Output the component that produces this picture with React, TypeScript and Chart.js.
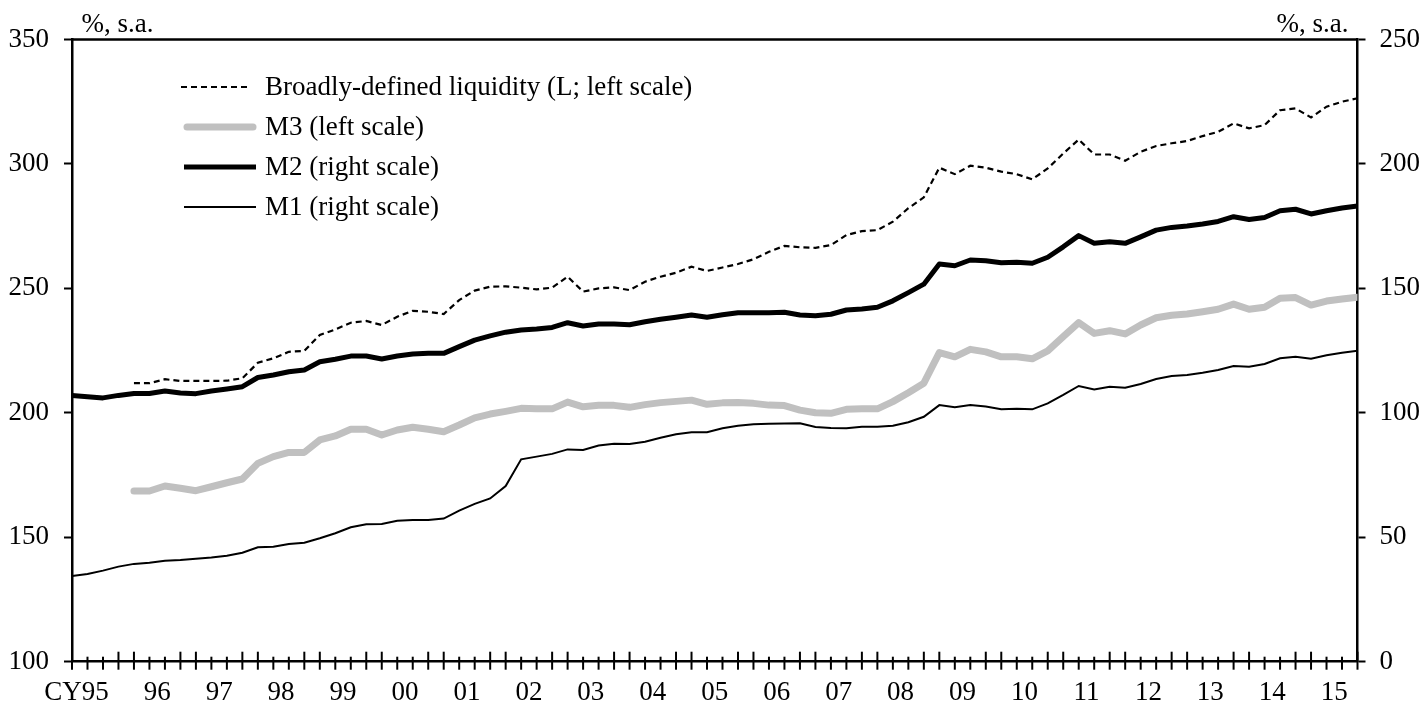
import React, { useEffect, useRef } from 'react';
import { Chart, registerables } from 'chart.js';

Chart.register(...registerables);

const FONT = "'Liberation Serif', 'Times New Roman', Times, serif";
const FS = 27;

// Years covered (quarterly data, 1995Q1 - 2015Q4)
const years = ['1995','1996','1997','1998','1999','2000','2001','2002','2003','2004','2005','2006','2007','2008','2009','2010','2011','2012','2013','2014','2015'];
const yearLabels = ['CY95','96','97','98','99','00','01','02','03','04','05','06','07','08','09','10','11','12','13','14','15'];
const quarters: string[] = years.flatMap((y) => [y + 'Q1', y + 'Q2', y + 'Q3', y + 'Q4']);

// Broadly-defined liquidity (L), left scale
const seriesL: (number | null)[] = [
  null, null, null, null,
  211.9, 211.9, 213.5, 212.8, 212.8, 212.8, 212.9, 213.9,
  220.1, 221.9, 224.5, 224.9, 231.3, 233.5, 236.2, 236.9,
  235.3, 238.6, 241.0, 240.6, 239.7, 245.3, 249.1, 250.7,
  250.8, 250.3, 249.6, 250.3, 254.7, 248.7, 250.0, 250.4,
  249.3, 252.7, 254.7, 256.3, 258.7, 257.0, 258.4, 259.8,
  261.7, 264.7, 267.1, 266.5, 266.3, 267.4, 271.4, 273.0,
  273.4, 276.8, 282.2, 286.6, 298.5, 295.9, 299.3, 298.5,
  296.9, 295.9, 293.8, 298.2, 304.2, 309.8, 303.8, 303.8,
  301.3, 304.9, 307.2, 308.3, 309.2, 311.2, 312.9, 316.3,
  314.3, 315.6, 321.6, 322.3, 318.7, 323.0, 325.0, 326.4,
];

// M3, left scale
const seriesM3: (number | null)[] = [
  null, null, null, null,
  168.6, 168.6, 170.6, 169.7, 168.7, 170.3, 171.9, 173.4,
  179.7, 182.4, 184.1, 184.1, 189.1, 190.7, 193.4, 193.4,
  191.1, 193.1, 194.2, 193.4, 192.4, 195.1, 198.0, 199.5,
  200.6, 201.8, 201.6, 201.6, 204.3, 202.4, 203.0, 203.0,
  202.2, 203.3, 204.1, 204.6, 205.1, 203.4, 204.0, 204.1,
  203.8, 203.1, 202.9, 201.1, 200.0, 199.8, 201.4, 201.6,
  201.6, 204.5, 208.1, 211.9, 224.2, 222.5, 225.5, 224.5,
  222.5, 222.5, 221.7, 224.9, 230.6, 236.2, 231.9, 233.0,
  231.7, 235.3, 238.2, 239.2, 239.7, 240.6, 241.6, 243.7,
  241.6, 242.4, 246.0, 246.3, 243.3, 244.9, 245.7, 246.4,
];

// M2, right scale
const seriesM2: number[] = [
  107.0, 106.5, 106.0, 107.0, 107.8, 107.8, 108.8, 108.0,
  107.7, 108.8, 109.6, 110.5, 114.2, 115.2, 116.5, 117.2,
  120.5, 121.5, 122.8, 122.8, 121.6, 122.8, 123.6, 123.9,
  123.9, 126.6, 129.2, 130.9, 132.4, 133.3, 133.7, 134.3,
  136.2, 134.9, 135.7, 135.7, 135.4, 136.6, 137.6, 138.4,
  139.3, 138.4, 139.4, 140.2, 140.2, 140.2, 140.4, 139.3,
  139.0, 139.6, 141.3, 141.7, 142.4, 145.0, 148.3, 151.7,
  159.8, 159.1, 161.4, 161.1, 160.3, 160.5, 160.1, 162.5,
  166.7, 171.2, 168.1, 168.7, 168.1, 170.7, 173.4, 174.5,
  175.1, 175.9, 176.9, 178.8, 177.7, 178.5, 181.2, 181.8,
  179.9, 181.2, 182.3, 183.1,
];

// M1, right scale
const seriesM1: number[] = [
  34.4, 35.2, 36.6, 38.2, 39.3, 39.8, 40.6, 40.9,
  41.4, 41.9, 42.6, 43.8, 46.0, 46.2, 47.3, 47.8,
  49.6, 51.6, 54.0, 55.2, 55.3, 56.6, 56.9, 56.9,
  57.5, 60.7, 63.4, 65.6, 70.6, 81.3, 82.4, 83.5,
  85.3, 85.1, 86.9, 87.6, 87.5, 88.4, 90.0, 91.4,
  92.2, 92.2, 93.8, 94.8, 95.4, 95.6, 95.7, 95.8,
  94.3, 93.9, 93.8, 94.4, 94.4, 94.8, 96.2, 98.4,
  103.1, 102.2, 103.1, 102.5, 101.4, 101.6, 101.4, 103.8,
  107.2, 110.8, 109.4, 110.5, 110.1, 111.6, 113.6, 114.8,
  115.2, 116.1, 117.2, 118.8, 118.5, 119.6, 121.9, 122.5,
  121.7, 123.1, 124.1, 124.9,
];

const legendItems = [
  { label: 'Broadly-defined liquidity (L; left scale)', color: '#000000', width: 2.2, dash: [6, 4] },
  { label: 'M3 (left scale)', color: '#c0c0c0', width: 7, dash: [] as number[] },
  { label: 'M2 (right scale)', color: '#000000', width: 5, dash: [] as number[] },
  { label: 'M1 (right scale)', color: '#000000', width: 2, dash: [] as number[] },
];

const unitLabel = '%, s.a.';

const toPoints = (arr: (number | null)[]) => arr.map((v, i) => ({ x: i, y: v }));

const W = 1423;
const H = 705;
const AREA = { left: 72, right: 1357.5, top: 39.5, bottom: 661.7 };

const decorPlugin = {
  id: 'decor',
  afterDraw(chart: any) {
    const { ctx, chartArea: a, scales } = chart;
    const xs = scales.x;
    ctx.save();
    // top frame line
    ctx.strokeStyle = '#000';
    ctx.lineWidth = 2.5;
    ctx.beginPath();
    ctx.moveTo(a.left, a.top);
    ctx.lineTo(a.right, a.top);
    ctx.stroke();

    // quarterly tick marks
    ctx.lineWidth = 2;
    quarters.forEach((_, k) => {
      const px = xs.getPixelForValue(k);
      const tall = k > 0 && (k % 4 === 0 || k % 4 === 3);
      ctx.beginPath();
      ctx.moveTo(px, a.bottom - (tall ? 10 : 5));
      ctx.lineTo(px, a.bottom + 8);
      ctx.stroke();
    });

    // year labels
    ctx.fillStyle = '#000';
    ctx.font = `${FS}px ${FONT}`;
    ctx.textBaseline = 'alphabetic';
    yearLabels.forEach((lab, i) => {
      const px = xs.getPixelForValue(1.5 + 4 * i);
      const short = lab.slice(-2);
      const half = ctx.measureText(short).width / 2;
      ctx.textAlign = 'right';
      ctx.fillText(lab, px + half, 700);
    });

    // unit labels
    ctx.textAlign = 'left';
    ctx.fillText(unitLabel, a.left + 9.5, 31.5);
    ctx.textAlign = 'right';
    ctx.fillText(unitLabel, a.right - 9, 31.5);

    // legend
    const lx0 = a.left + 112;
    const lx1 = a.left + 184;
    const tx = a.left + 193;
    legendItems.forEach((it, i) => {
      const y = 87 + i * 40;
      ctx.save();
      ctx.strokeStyle = it.color;
      ctx.lineWidth = it.width;
      ctx.setLineDash(it.dash);
      ctx.lineCap = it.dash.length ? 'butt' : (it.width > 5 ? 'round' : 'butt');
      ctx.beginPath();
      ctx.moveTo(i === 0 ? lx0 - 3 : lx0 + (it.width > 5 ? 3 : 0), y);
      ctx.lineTo(i === 0 ? lx1 - 6 : lx1 - (it.width > 5 ? 3 : 0), y);
      ctx.stroke();
      ctx.restore();
      ctx.fillStyle = '#000';
      ctx.textAlign = 'left';
      ctx.textBaseline = 'middle';
      ctx.fillText(it.label, tx, y + 1);
    });
    ctx.restore();
  },
};

export default function App() {
  const ref = useRef<HTMLCanvasElement | null>(null);

  useEffect(() => {
    document.body.style.margin = '0';
    document.body.style.overflow = 'hidden';
    const canvas = ref.current;
    if (!canvas) return;
    Chart.defaults.font.family = FONT;
    Chart.defaults.color = '#000';
    const tickFont = { family: FONT, size: FS };
    const chart = new Chart(canvas, {
      type: 'line',
      data: {
        datasets: [
          {
            label: legendItems[0].label,
            data: toPoints(seriesL),
            yAxisID: 'y',
            borderColor: '#000',
            borderWidth: 2.2,
            borderDash: [6, 4],
            pointRadius: 0,
            tension: 0,
            fill: false,
          },
          {
            label: legendItems[1].label,
            data: toPoints(seriesM3),
            yAxisID: 'y',
            borderColor: '#c0c0c0',
            borderWidth: 7,
            borderJoinStyle: 'round',
            borderCapStyle: 'round',
            pointRadius: 0,
            tension: 0,
            fill: false,
          },
          {
            label: legendItems[2].label,
            data: toPoints(seriesM2),
            yAxisID: 'y2',
            borderColor: '#000',
            borderWidth: 5,
            borderJoinStyle: 'round',
            pointRadius: 0,
            tension: 0,
            fill: false,
          },
          {
            label: legendItems[3].label,
            data: toPoints(seriesM1),
            yAxisID: 'y2',
            borderColor: '#000',
            borderWidth: 2,
            pointRadius: 0,
            tension: 0,
            fill: false,
          },
        ],
      },
      options: {
        responsive: false,
        animation: false,
        events: [],
        layout: { padding: { top: AREA.top, left: 0, right: 0, bottom: 0 } },
        plugins: {
          legend: { display: false },
          tooltip: { enabled: false },
        },
        scales: {
          x: {
            type: 'linear',
            min: 0,
            max: quarters.length - 1,
            position: 'bottom',
            grid: { display: true, drawOnChartArea: false, drawTicks: false },
            border: { display: true, color: '#000', width: 2.5 },
            ticks: { display: false },
            afterFit: (s: any) => {
              s.height = H - AREA.bottom;
            },
          },
          y: {
            position: 'left',
            min: 100,
            max: 350,
            ticks: { stepSize: 50, color: '#000', font: tickFont, padding: 15 },
            grid: { drawOnChartArea: false, tickLength: 8, tickColor: '#000', tickWidth: 2 },
            border: { color: '#000', width: 2.5 },
            afterFit: (s: any) => {
              s.width = AREA.left;
            },
          },
          y2: {
            position: 'right',
            min: 0,
            max: 250,
            ticks: { stepSize: 50, color: '#000', font: tickFont, padding: 14 },
            grid: { drawOnChartArea: false, tickLength: 8, tickColor: '#000', tickWidth: 2 },
            border: { color: '#000', width: 2.5 },
            afterFit: (s: any) => {
              s.width = W - AREA.right;
            },
          },
        },
      } as any,
      plugins: [decorPlugin],
    });
    return () => chart.destroy();
  }, []);

  return (
    <div style={{ width: W, height: H, background: '#fff' }}>
      <canvas ref={ref} width={W} height={H} style={{ display: 'block' }} />
    </div>
  );
}
